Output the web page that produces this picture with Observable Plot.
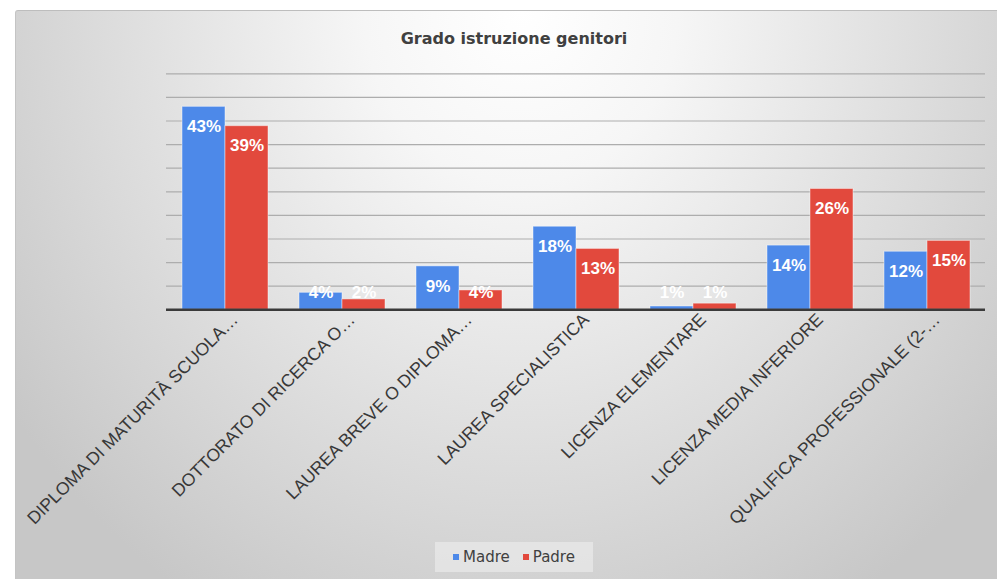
<!DOCTYPE html>
<html><head><meta charset="utf-8">
<script src="https://cdn.jsdelivr.net/npm/d3@7"></script>
<script src="https://cdn.jsdelivr.net/npm/@observablehq/plot@0.6"></script>
<style>
html,body{margin:0;padding:0;background:#fff;}
body{width:997px;height:579px;position:relative;overflow:hidden;font-family:"Liberation Sans",Arial,sans-serif;}
#panel{position:absolute;left:15px;top:10px;width:1010px;height:600px;border-top:1px solid #bdbdbd;border-left:1px solid #c4c4c4;border-radius:3px 0 0 0;
  background:radial-gradient(ellipse 62% 115% at 50% 0%, #ffffff 0%, #f6f6f6 25%, #e0e0e0 60%, #c7c7c7 100%);}
#title{position:absolute;left:0;width:1028px;top:30.5px;line-height:16px;text-align:center;font-family:"DejaVu Sans";font-weight:bold;font-size:16px;color:#404040;}
#chart{position:absolute;left:0;top:0;}
#legend{position:absolute;left:435px;top:542px;width:158px;height:30px;background:rgba(240,240,240,0.55);display:flex;align-items:center;justify-content:center;gap:13px;font-family:"DejaVu Sans";font-size:15px;color:#404040;}
#legend span.item{display:flex;align-items:center;gap:4px;}
#legend i{display:inline-block;width:6px;height:6px;}
</style></head>
<body>
<div id="panel"></div>
<div id="title">Grado istruzione genitori</div>
<div id="chart"></div>
<div id="legend"></div>
<script>
const categories = ["DIPLOMA DI MATURITÀ SCUOLA…", "DOTTORATO DI RICERCA O…", "LAUREA BREVE O DIPLOMA…", "LAUREA SPECIALISTICA", "LICENZA ELEMENTARE", "LICENZA MEDIA INFERIORE", "QUALIFICA PROFESSIONALE (2-…"];
const series = ["Madre", "Padre"];
const madre = [43.0, 3.6, 9.2, 17.6, 0.7, 13.6, 12.3];
const padre = [38.9, 2.2, 4.1, 12.9, 1.3, 25.6, 14.6];
const colors = ["#4d89e9", "#e2493d"];
const yTicks = [5, 10, 15, 20, 25, 30, 35, 40, 45, 50];

const data = categories.flatMap((c, i) => [
  {cat: c, s: series[0], v: madre[i]},
  {cat: c, s: series[1], v: padre[i]}
]);

const chart = Plot.plot({
  width: 997, height: 579,
  marginLeft: 163, marginRight: 9, marginTop: 73.3, marginBottom: 269.7,
  style: {background: "transparent", overflow: "visible", fontFamily: "Liberation Sans"},
  fx: {domain: categories, padding: 0, label: null},
  x: {domain: series, paddingInner: 0, paddingOuter: 0.34, axis: null},
  y: {domain: [0, 50], axis: null},
  color: {domain: series, range: colors},
  marks: [
    Plot.ruleY(yTicks, {stroke: "#adadad", strokeWidth: 1.2}),
    Plot.barY(data, {fx: "cat", x: "s", y: "v", fill: "s", stroke: "#ffffff", strokeOpacity: 0.45, strokeWidth: 1}),
    Plot.ruleY([0], {stroke: "#3a3a3a", strokeWidth: 2.5}),
    Plot.text(data, {fx: "cat", x: "s", y: d => Math.max(d.v - 4.2, 3.6), text: d => Math.round(d.v) + "%", fill: "white", fontWeight: "bold", fontSize: 17}),
    Plot.axisFx({anchor: "bottom", tickRotate: -45, tickSize: 0, tickPadding: 7, dx: 10, fontSize: 17.6, fill: "#383838", label: null})
  ]
});
document.getElementById("chart").appendChild(chart);

const legend = document.getElementById("legend");
series.forEach((s, i) => {
  const item = document.createElement("span");
  item.className = "item";
  const sw = document.createElement("i");
  sw.style.background = colors[i];
  item.appendChild(sw);
  item.appendChild(document.createTextNode(s));
  legend.appendChild(item);
});
</script>
</body></html>
